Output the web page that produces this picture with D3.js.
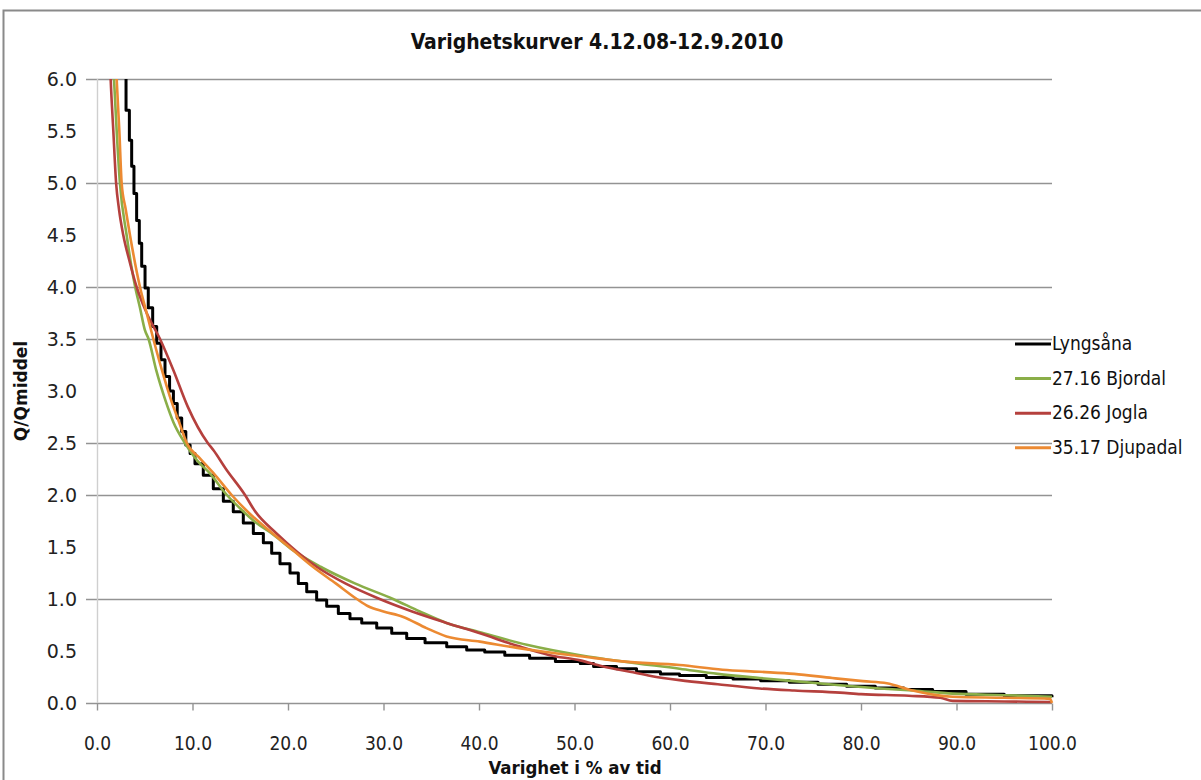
<!DOCTYPE html>
<html>
<head>
<meta charset="utf-8">
<script src="https://cdn.jsdelivr.net/npm/d3@7"></script>
<style>
  body { margin: 0; background: #fff; }
  svg { display: block; }
</style>
</head>
<body>
<div id="chart"></div>
<script>
// values: [varighet %, Q/Qmiddel]
var lyngsana = [[3.04,6.6],[3.04,5.70],[3.39,5.41],[3.63,5.16],[3.87,4.90],[4.15,4.64],[4.43,4.42],[4.68,4.20],
  [5.03,3.99],[5.37,3.80],[5.83,3.62],[6.25,3.46],[6.70,3.30],[7.12,3.14],[7.6,3.0],[8.0,2.88],[8.4,2.74],
  [8.87,2.61],[9.3,2.48],[9.75,2.40],[10.26,2.30],[11.13,2.19],[12.18,2.06],[13.23,1.94],[14.27,1.84],
  [15.32,1.73],[16.37,1.63],[17.42,1.54],[18.29,1.44],[19.16,1.34],[20.21,1.25],[21.08,1.15],[21.96,1.07],
  [23.0,0.99],[24.05,0.93],[25.27,0.86],[26.49,0.81],[27.72,0.77],[29.29,0.72],[30.86,0.67],[32.43,0.62],
  [34.35,0.58],[36.62,0.54],[38.71,0.51],[40.6,0.49],[42.7,0.46],[45.3,0.43],[48.0,0.40],[50.6,0.38],
  [52.0,0.35],[54.4,0.33],[56.5,0.30],[59.0,0.28],[61.0,0.265],[63.8,0.245],[66.6,0.23],[69.5,0.215],
  [72.5,0.20],[75.5,0.18],[78.5,0.16],[81.5,0.145],[84.5,0.13],[87.5,0.11],[91,0.085],[95,0.07],[100,0.055]];

var bjordal = [[1.5,6.6],[1.78,6.0],[2.06,5.5],[2.4,5.0],[3.1,4.5],[3.6,4.2],[4.0,4.0],[4.5,3.8],[5.0,3.59],
  [5.4,3.5],[6.2,3.2],[7.2,2.9],[8.0,2.7],[9.2,2.5],[10.5,2.33],[11.8,2.21],[13.6,2.0],[15,1.87],[16.7,1.73],
  [18.3,1.63],[20.5,1.47],[23.4,1.31],[27,1.15],[31,1.0],[33.8,0.88],[36.6,0.77],[40.1,0.68],[45,0.56],
  [50.6,0.46],[55,0.40],[61,0.33],[65,0.28],[69.4,0.24],[73,0.21],[77.8,0.17],[82,0.14],[85.4,0.12],
  [89.6,0.09],[95,0.075],[100,0.06]];

var jogla = [[1.2,6.6],[1.43,6.0],[1.71,5.5],[2.0,5.0],[2.3,4.75],[2.75,4.5],[3.4,4.25],[4.15,4.0],[5.2,3.75],
  [6.6,3.5],[8.0,3.2],[9.5,2.85],[11.6,2.5],[12.2,2.43],[13.5,2.25],[15.5,2.0],[16.5,1.85],[18.8,1.63],
  [21,1.45],[23,1.31],[26,1.15],[29.6,1.0],[33,0.88],[36.6,0.77],[40.1,0.67],[44,0.55],[47.4,0.46],
  [50.6,0.41],[53,0.35],[55.8,0.30],[58,0.26],[61,0.22],[65,0.18],[69.4,0.14],[73,0.12],[77.8,0.10],
  [80,0.085],[85,0.07],[88.3,0.05],[89.6,0.02],[95,0.015],[100,0.01]];

var djupadal = [[1.8,6.6],[2.06,6.0],[2.34,5.5],[2.58,5.0],[3.0,4.75],[3.45,4.5],[4.5,4.0],[5.2,3.75],[5.9,3.5],
  [6.8,3.2],[7.8,2.9],[8.6,2.7],[9.4,2.5],[10.8,2.35],[12.2,2.21],[14.1,2.0],[16,1.82],[18.4,1.63],[20.5,1.47],
  [22.6,1.31],[25,1.15],[27.2,1.0],[28.4,0.93],[30,0.88],[32,0.83],[34.5,0.72],[36.6,0.64],[40.1,0.59],
  [44,0.53],[47,0.49],[50.6,0.45],[55,0.40],[61,0.365],[65.5,0.32],[69.4,0.30],[73,0.28],[77,0.24],
  [80.2,0.21],[82.7,0.19],[85.4,0.12],[89.6,0.06],[95,0.05],[99.8,0.04],[100,0.0]];

var seriesNames = ["Lyngsåna", "27.16 Bjordal", "26.26 Jogla", "35.17 Djupadal"];
var xTicks = [0, 10, 20, 30, 40, 50, 60, 70, 80, 90, 100];
var yTicks = [0, 0.5, 1, 1.5, 2, 2.5, 3, 3.5, 4, 4.5, 5, 5.5, 6];
var gridVals = [0, 1, 2, 2.5, 3.5, 4, 5, 6]; // only these lines survive in the picture

var plot = {left: 97, right: 1052, top: 79, bottom: 703};
var narrow = "'Liberation Sans Narrow', 'DejaVu Sans Condensed', sans-serif";

var svg = d3.select("#chart")
  .append("svg")
  .attr("width", 1201)
  .attr("height", 780);

// chart area border
svg.append("rect")
  .attr("x", 3.5).attr("y", 10.5)
  .attr("width", 1250).attr("height", 800)
  .attr("fill", "none")
  .attr("stroke", "#8a8a8a")
  .attr("stroke-width", 2);

var x = d3.scaleLinear().domain([0, 100]).range([plot.left, plot.right]);
var y = d3.scaleLinear().domain([0, 6]).range([plot.bottom, plot.top]);

svg.append("text")
  .attr("x", 597).attr("y", 49)
  .attr("text-anchor", "middle")
  .style("font-family", narrow)
  .style("font-weight", "bold")
  .style("font-size", "21px")
  .attr("fill", "#111")
  .text("Varighetskurver 4.12.08-12.9.2010");

// gridlines (with the little tick stub to the left)
svg.append("g")
  .selectAll("line")
  .data(gridVals)
  .enter()
  .append("line")
  .attr("x1", plot.left - 11)
  .attr("x2", plot.right)
  .attr("y1", function(d) { return Math.round(y(d)) + 0.5; })
  .attr("y2", function(d) { return Math.round(y(d)) + 0.5; })
  .attr("stroke", "#939393")
  .attr("stroke-width", 1.4);

// faint vertical axis
svg.append("line")
  .attr("x1", plot.left + 0.5).attr("x2", plot.left + 0.5)
  .attr("y1", plot.top).attr("y2", plot.bottom)
  .attr("stroke", "#cfcfcf")
  .attr("stroke-width", 1.4);

var yAxis = svg.append("g")
  .attr("transform", "translate(" + plot.left + ",0)")
  .call(d3.axisLeft(y).tickValues(yTicks).tickSize(0).tickPadding(20).tickFormat(d3.format(".1f")));
yAxis.select(".domain").remove();
yAxis.selectAll("text")
  .style("font-family", "'DejaVu Sans', Verdana, sans-serif")
  .style("font-size", "19px")
  .attr("fill", "#222");

var xAxis = svg.append("g")
  .attr("transform", "translate(0," + (Math.round(y(0)) + 0.5) + ")")
  .call(d3.axisBottom(x).tickValues(xTicks).tickSize(7).tickPadding(26).tickFormat(d3.format(".1f")));
xAxis.select(".domain").remove();
xAxis.selectAll("line").attr("stroke", "#939393").attr("stroke-width", 1.4);
xAxis.selectAll("text")
  .style("font-family", narrow)
  .style("font-size", "19px")
  .attr("fill", "#222");

svg.append("text")
  .attr("x", 575).attr("y", 774)
  .attr("text-anchor", "middle")
  .style("font-family", narrow)
  .style("font-weight", "bold")
  .style("font-size", "18.5px")
  .attr("fill", "#111")
  .text("Varighet i % av tid");

svg.append("text")
  .attr("transform", "translate(27,391)rotate(-90)")
  .attr("text-anchor", "middle")
  .style("font-family", "'DejaVu Sans', Verdana, sans-serif")
  .style("font-weight", "bold")
  .style("font-size", "17px")
  .attr("fill", "#111")
  .text("Q/Qmiddel");

svg.append("clipPath")
  .attr("id", "plotclip")
  .append("rect")
  .attr("x", plot.left).attr("y", plot.top)
  .attr("width", plot.right - plot.left + 2)
  .attr("height", plot.bottom - plot.top + 2);

var colors = ["#000000", "#8aae48", "#b5403d", "#ec8a32"];
var widths = [3, 2.6, 2.6, 2.6];
var allSeries = [lyngsana, bjordal, jogla, djupadal];

var stepLine = d3.line()
  .x(function(d) { return x(d[0]); })
  .y(function(d) { return y(d[1]); })
  .curve(d3.curveStepAfter);
var smoothLine = d3.line()
  .x(function(d) { return x(d[0]); })
  .y(function(d) { return y(d[1]); })
  .curve(d3.curveMonotoneX);

var lines = svg.append("g").attr("clip-path", "url(#plotclip)");
allSeries.forEach(function(s, i) {
  lines.append("path")
    .datum(s)
    .attr("d", i == 0 ? stepLine : smoothLine)
    .attr("fill", "none")
    .attr("stroke", colors[i])
    .attr("stroke-width", widths[i])
    .attr("stroke-linejoin", "round");
});

// legend
var legend = svg.append("g").attr("transform", "translate(1015,344)");
seriesNames.forEach(function(name, i) {
  legend.append("line")
    .attr("x1", 0).attr("x2", 36)
    .attr("y1", i * 34.6).attr("y2", i * 34.6)
    .attr("stroke", colors[i])
    .attr("stroke-width", 3);
  legend.append("text")
    .attr("x", 37).attr("y", i * 34.6 + 6)
    .style("font-family", narrow)
    .style("font-size", "19px")
    .attr("fill", "#111")
    .text(name);
});
</script>
</body>
</html>
